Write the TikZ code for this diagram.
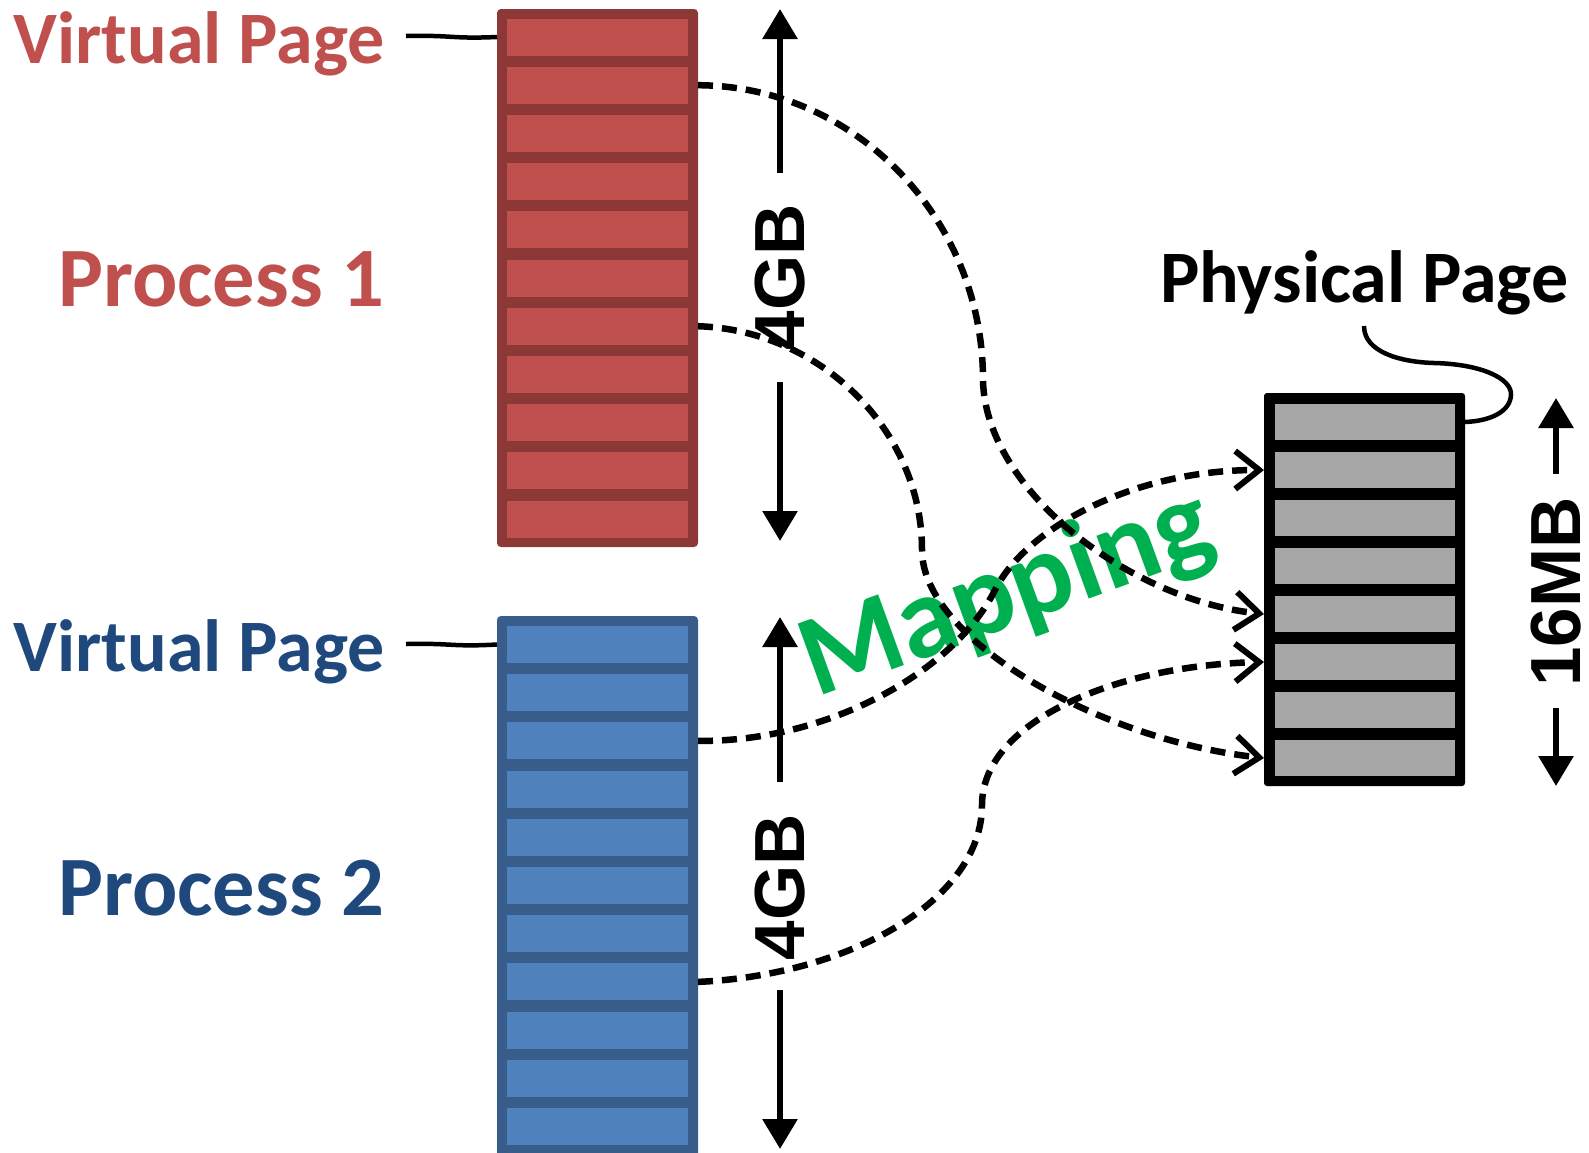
\documentclass[tikz,border=0pt]{standalone}
\usepackage{fontspec}
\setmainfont{Carlito}
\newfontfamily\dimfont{Liberation Sans}
\usetikzlibrary{arrows.meta}

\definecolor{redfill}{HTML}{C0504D}
\definecolor{rededge}{HTML}{8C3836}
\definecolor{bluefill}{HTML}{4F81BD}
\definecolor{blueedge}{HTML}{385D8A}
\definecolor{bluetext}{HTML}{1F497D}
\definecolor{grayfill}{HTML}{A6A6A6}
\definecolor{mapgreen}{HTML}{00B050}

\begin{document}
\begin{tikzpicture}[x=1pt,y=-1pt,
  block/.style={rectangle, draw=none, rounded corners=4pt, minimum width=201pt, inner sep=0pt, outer sep=0pt},
  vcell/.style={rectangle, minimum width=181pt, minimum height=37pt, inner sep=0pt, outer sep=0pt},
  pcell/.style={rectangle, fill=grayfill, minimum width=180pt, minimum height=36pt, inner sep=0pt, outer sep=0pt},
  biglabel/.style={anchor=base east, font=\fontsize{74}{78}\selectfont\bfseries, inner sep=0pt},
  proclabel/.style={anchor=base east, font=\fontsize{84.5}{88}\selectfont\bfseries, inner sep=0pt},
  sizelabel/.style={rotate=90, font=\dimfont\bfseries\fontsize{71}{74}\selectfont, inner sep=0pt},
  dimarrow/.style={line width=6pt, -{Triangle[width=34pt,length=30pt]}},
  callout/.style={line width=4.5pt},
  mapline/.style={line width=6.5pt, dash pattern=on 15pt off 9pt, -{Straight Barb[length=24pt,width=38pt,line width=6pt]}}
]
\useasboundingbox (0,0) rectangle (1589,1152);

% virtual address space of process 1
\node[block, fill=rededge, minimum height=538pt] (vm1) at (597.5,278) {};
\foreach \i in {1,...,11}
  \node[vcell, fill=redfill] (r\i) at (597.5,{37+48.2*(\i-1)}) {};

% virtual address space of process 2
\node[block, fill=blueedge, minimum height=546pt] (vm2) at (597.5,889) {};
\foreach \i in {1,...,11}
  \node[vcell, fill=bluefill] (b\i) at (597.5,{644.5+48.2*(\i-1)}) {};

% physical memory
\node[block, fill=black, rounded corners=3pt, minimum height=393pt] (pm) at (1364.5,589.5) {};
\foreach \i in {1,...,8}
  \node[pcell] (p\i) at (1365,{422+48*(\i-1)}) {};

% labels
\node[biglabel, text=redfill] (vp1) at (385,63) {Virtual Page};
\node[proclabel, text=redfill] (proc1) at (385,306) {Process 1};
\node[biglabel, text=bluetext] (vp2) at (385,671) {Virtual Page};
\node[proclabel, text=bluetext] (proc2) at (385,915) {Process 2};
\node[biglabel, anchor=base west] (ppl) at (1160,302) {Physical Page};
\node[rotate=20, anchor=base west, font=\fontsize{116}{119}\selectfont\bfseries, text=mapgreen, inner sep=0pt] (maplabel) at (816,698) {Mapping};

% callout lines
\coordinate (vp1end) at (406,36);
\coordinate (vp2end) at (406,644);
\coordinate (pplend) at (1364,326);
\draw[callout] (vp1end) .. controls (455,35) and (450,39) .. (r1.west -| vm1.west);
\draw[callout] (vp2end) .. controls (455,643) and (450,647) .. (b1.west -| vm2.west);
\draw[callout] (pplend) .. controls (1364,352) and (1400,362) .. (1434,363)
  .. controls (1480,364) and (1512,378) .. (1511,395)
  .. controls (1510,412) and (1490,421) .. (p1.east -| pm.east);

% size markers
\node[sizelabel] (gb1) at (780,277) {4GB};
\node[sizelabel] (gb2) at (780,887) {4GB};
\node[sizelabel] (mb) at (1556,592) {16MB};
\coordinate (g1a) at (780,173); \coordinate (g1t) at (780,9);
\coordinate (g1b) at (780,382); \coordinate (g1u) at (780,541);
\coordinate (g2a) at (780,782); \coordinate (g2t) at (780,617);
\coordinate (g2b) at (780,990); \coordinate (g2u) at (780,1149);
\coordinate (m1a) at (1556,474); \coordinate (m1t) at (1556,398);
\coordinate (m1b) at (1556,708); \coordinate (m1u) at (1556,786);
\draw[dimarrow] (g1a) -- (g1t);
\draw[dimarrow] (g1b) -- (g1u);
\draw[dimarrow] (g2a) -- (g2t);
\draw[dimarrow] (g2b) -- (g2u);
\draw[dimarrow] (m1a) -- (m1t);
\draw[dimarrow] (m1b) -- (m1u);

% page mappings
\draw[mapline] (r2.east -| vm1.east) .. controls (855,86) and (983,218) .. (983,380)
  .. controls (985,490) and (1130,600) .. (p5.west -| pm.west);
\draw[mapline] (r7.east -| vm1.east) .. controls (820,330) and (922,430) .. (922,550)
  .. controls (922,640) and (1100,740) .. (p8.west -| pm.west);
\draw[mapline] (b3.east -| vm2.east) .. controls (830,742) and (955,670) .. (995,590)
  .. controls (1025,530) and (1130,470) .. (p2.west -| pm.west);
\draw[mapline] (b8.east -| vm2.east) .. controls (850,975) and (982,900) .. (982,805)
  .. controls (982,720) and (1120,665) .. (p6.west -| pm.west);
\end{tikzpicture}
\end{document}
